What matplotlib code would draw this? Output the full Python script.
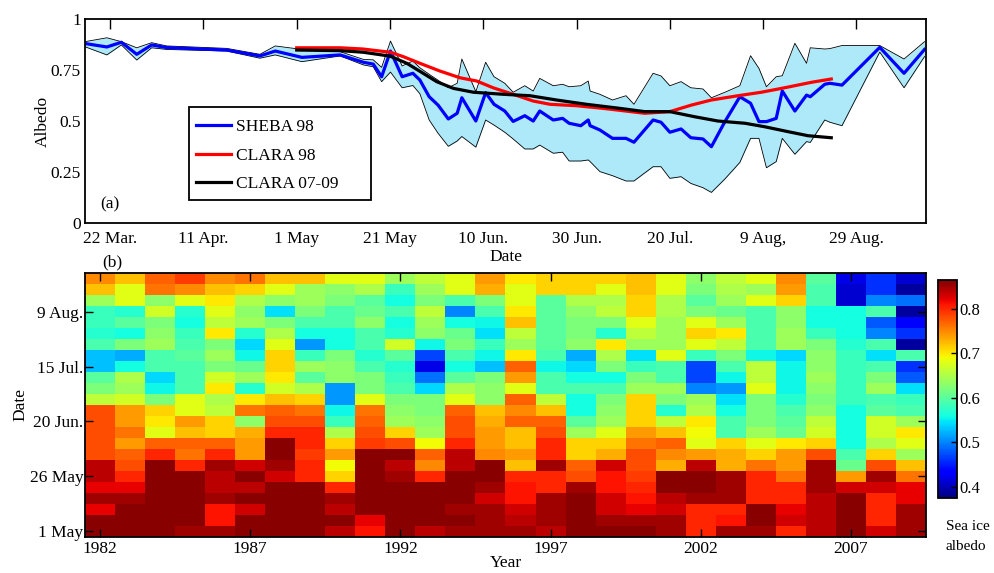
import matplotlib
matplotlib.use("Agg")
import matplotlib.pyplot as plt
from matplotlib.patches import Rectangle
import numpy as np

plt.rcParams['font.family'] = ['Liberation Serif', 'DejaVu Serif']
plt.rcParams['font.size'] = 12.5

# ---------------- (a) SHEBA 1998 albedo and CLARA seasonal curves ----------------
# day of year (1998)
sheba_doy = [75.6, 80.3, 83.4, 86.7, 89.9, 93.1, 106.0, 113.1, 116.4, 122.1,
             130.3, 135.3, 137.4, 139.2, 141.1, 143.6, 145.9, 147.4, 149.4, 151.3,
             153.5, 155.4, 156.4, 159.4, 161.5, 163.3, 165.6, 167.4, 169.9, 171.7,
             173.1, 176.0, 178.0, 179.4, 181.9, 183.5, 183.9, 186.0, 188.7, 191.6,
             193.3, 197.4, 199.1, 201.0, 203.4, 205.5, 208.1, 209.9, 212.8, 216.0,
             218.3, 220.1, 221.7, 223.8, 225.1, 227.8, 230.3, 231.1, 234.2, 235.3,
             237.9, 246.0, 251.2, 255.6]
sheba_mean = [0.880, 0.863, 0.886, 0.827, 0.873, 0.860, 0.848, 0.819, 0.843, 0.812,
              0.824, 0.788, 0.779, 0.717, 0.843, 0.717, 0.734, 0.701, 0.619, 0.578,
              0.510, 0.538, 0.614, 0.500, 0.639, 0.582, 0.549, 0.498, 0.526, 0.500,
              0.549, 0.505, 0.513, 0.489, 0.477, 0.505, 0.477, 0.456, 0.415, 0.415,
              0.396, 0.505, 0.494, 0.445, 0.461, 0.418, 0.412, 0.374, 0.497, 0.619,
              0.587, 0.497, 0.497, 0.513, 0.647, 0.549, 0.627, 0.619, 0.680, 0.685,
              0.676, 0.861, 0.734, 0.851]
sheba_upper = [0.889, 0.908, 0.889, 0.859, 0.884, 0.868, 0.856, 0.827, 0.868, 0.851,
               0.840, 0.802, 0.800, 0.763, 0.892, 0.770, 0.794, 0.761, 0.729, 0.700,
               0.663, 0.685, 0.804, 0.644, 0.788, 0.717, 0.685, 0.641, 0.673, 0.647,
               0.709, 0.673, 0.680, 0.668, 0.673, 0.696, 0.647, 0.631, 0.603, 0.624,
               0.582, 0.734, 0.721, 0.673, 0.693, 0.663, 0.657, 0.614, 0.641, 0.673,
               0.820, 0.758, 0.668, 0.717, 0.722, 0.881, 0.783, 0.859, 0.853, 0.855,
               0.870, 0.870, 0.804, 0.889]
sheba_lower = [0.864, 0.824, 0.873, 0.799, 0.859, 0.851, 0.843, 0.808, 0.824, 0.791,
               0.819, 0.775, 0.766, 0.693, 0.740, 0.663, 0.674, 0.634, 0.505, 0.440,
               0.376, 0.402, 0.424, 0.372, 0.505, 0.480, 0.445, 0.412, 0.363, 0.363,
               0.382, 0.342, 0.347, 0.304, 0.304, 0.309, 0.301, 0.252, 0.232, 0.206,
               0.206, 0.276, 0.276, 0.219, 0.227, 0.194, 0.173, 0.150, 0.216, 0.297,
               0.415, 0.415, 0.271, 0.301, 0.415, 0.337, 0.399, 0.395, 0.505, 0.494,
               0.477, 0.838, 0.663, 0.816]

clara98_doy = [121.0, 130.3, 135.2, 141.1, 143.8, 147.4, 151.7, 156.0, 159.6, 163.1,
               167.4, 171.7, 175.3, 181.0, 186.7, 195.6, 201.0, 205.6, 209.9, 215.6,
               220.6, 225.6, 231.4, 235.6]
clara98 = [0.859, 0.859, 0.853, 0.837, 0.816, 0.783, 0.745, 0.712, 0.696, 0.663,
           0.631, 0.598, 0.582, 0.575, 0.562, 0.538, 0.546, 0.578, 0.603, 0.624,
           0.641, 0.663, 0.690, 0.706]

clara0709_doy = [121.0, 130.3, 135.3, 141.0, 144.6, 148.1, 151.0, 154.6, 158.9, 165.3,
                 171.0, 176.7, 183.1, 190.3, 195.6, 201.0, 206.3, 211.3, 217.1, 221.3,
                 226.3, 230.6, 235.6]
clara0709 = [0.848, 0.845, 0.837, 0.818, 0.783, 0.734, 0.693, 0.660, 0.641, 0.631,
             0.624, 0.603, 0.582, 0.562, 0.546, 0.546, 0.521, 0.500, 0.489, 0.472,
             0.448, 0.428, 0.418]

date_tick_doy = [81, 101, 121, 141, 161, 181, 201, 221, 241]
date_tick_labels = ['22 Mar.', '11 Apr.', '1 May', '21 May', '10 Jun.',
                    '30 Jun.', '20 Jul.', '9 Aug,', '29 Aug.']

# ---------------- (b) pentad sea ice albedo 1982-2009 ----------------
years = list(range(1982, 2010))
pentad_ticks = [0, 5, 10, 15, 20]
pentad_labels = ['1 May', '26 May', '20 Jun.', '15 Jul.', '9 Aug.']

# one row per pentad, starting 1 May; one column per year 1982..2009
albedo_grid = [
    [.86, .86, .86, .85, .85, .86, .86, .86, .84, .81, .86, .84, .85, .85, .85, .84, .86, .86, .86, .85, .80, .85, .85, .80, .84, .86, .83, .85],
    [.86, .86, .86, .86, .81, .86, .86, .86, .86, .82, .86, .86, .86, .85, .84, .85, .86, .85, .85, .85, .80, .81, .86, .83, .84, .86, .80, .85],
    [.82, .86, .86, .86, .81, .83, .86, .86, .84, .86, .86, .86, .85, .85, .83, .85, .86, .83, .82, .83, .80, .80, .86, .82, .84, .86, .80, .85],
    [.85, .85, .86, .86, .85, .86, .86, .86, .85, .86, .86, .86, .86, .83, .81, .85, .86, .83, .81, .84, .85, .85, .80, .80, .84, .86, .80, .82],
    [.82, .82, .86, .86, .84, .84, .86, .86, .80, .86, .86, .86, .86, .85, .81, .80, .85, .81, .80, .86, .86, .85, .80, .80, .85, .83, .83, .82],
    [.84, .80, .86, .86, .84, .86, .83, .80, .71, .86, .85, .80, .86, .86, .80, .80, .78, .81, .79, .86, .86, .85, .80, .76, .85, .74, .85, .76],
    [.84, .78, .86, .80, .85, .83, .85, .80, .69, .86, .84, .75, .84, .86, .72, .85, .77, .83, .78, .73, .84, .73, .76, .74, .85, .61, .78, .72],
    [.78, .77, .80, .76, .80, .74, .86, .79, .74, .86, .86, .77, .84, .75, .74, .80, .71, .73, .78, .75, .74, .73, .71, .74, .78, .59, .71, .64],
    [.78, .74, .77, .77, .77, .74, .86, .80, .71, .79, .78, .69, .80, .74, .72, .80, .71, .71, .76, .77, .68, .71, .68, .70, .71, .56, .65, .68],
    [.78, .76, .68, .72, .71, .73, .80, .80, .65, .78, .71, .64, .78, .74, .72, .78, .64, .68, .74, .72, .69, .59, .64, .61, .67, .56, .67, .70],
    [.78, .74, .70, .74, .71, .63, .78, .78, .58, .77, .64, .63, .78, .73, .77, .77, .60, .64, .71, .66, .70, .59, .62, .60, .66, .56, .67, .64],
    [.78, .74, .71, .68, .66, .76, .77, .76, .555, .76, .63, .62, .77, .72, .75, .72, .56, .63, .71, .57, .65, .56, .62, .59, .63, .56, .60, .59],
    [.66, .67, .62, .68, .65, .70, .72, .71, .51, .68, .62, .62, .68, .63, .77, .66, .56, .62, .71, .62, .64, .545, .62, .57, .62, .58, .59, .58],
    [.62, .64, .555, .59, .70, .57, .67, .65, .51, .62, .59, .54, .65, .63, .68, .59, .59, .59, .64, .64, .50, .51, .68, .555, .63, .58, .64, .545],
    [.60, .65, .54, .59, .67, .64, .70, .60, .63, .62, .58, .49, .60, .62, .74, .59, .56, .56, .62, .59, .47, .555, .66, .555, .64, .58, .62, .48],
    [.53, .56, .59, .59, .62, .61, .71, .64, .63, .59, .57, .42, .56, .53, .77, .555, .54, .62, .58, .59, .47, .59, .66, .555, .63, .58, .59, .46],
    [.53, .52, .59, .60, .64, .555, .71, .58, .62, .57, .60, .47, .59, .555, .70, .59, .52, .65, .545, .68, .58, .62, .555, .54, .63, .58, .545, .59],
    [.59, .62, .64, .59, .62, .54, .68, .51, .56, .59, .67, .555, .62, .58, .64, .60, .63, .70, .64, .64, .68, .66, .59, .64, .62, .57, .59, .39],
    [.57, .56, .63, .58, .70, .57, .65, .56, .56, .59, .57, .63, .61, .545, .66, .60, .62, .57, .66, .64, .71, .70, .59, .64, .58, .56, .50, .46],
    [.58, .60, .62, .56, .66, .64, .62, .59, .59, .63, .56, .64, .56, .555, .72, .60, .62, .62, .68, .64, .68, .64, .59, .63, .56, .56, .48, .43],
    [.58, .57, .67, .57, .68, .63, .545, .62, .59, .61, .59, .66, .50, .59, .70, .60, .63, .66, .71, .65, .62, .61, .59, .63, .56, .56, .59, .39],
    [.64, .68, .63, .68, .70, .65, .63, .64, .62, .60, .56, .62, .59, .62, .68, .60, .65, .65, .71, .65, .60, .64, .68, .71, .59, .41, .50, .49],
    [.72, .68, .76, .75, .72, .71, .68, .64, .63, .65, .58, .64, .68, .73, .68, .71, .71, .68, .72, .68, .62, .65, .64, .74, .59, .41, .46, .39],
    [.75, .72, .77, .79, .75, .76, .72, .72, .68, .68, .64, .66, .68, .74, .70, .71, .71, .71, .72, .68, .63, .66, .68, .75, .60, .42, .46, .41],
]

year_ticks = [1982, 1987, 1992, 1997, 2002, 2007]
cbar_ticks = [0.4, 0.5, 0.6, 0.7, 0.8]

fig = plt.figure(figsize=(9.95, 5.73), dpi=100)

# ---- panel (a) ----
ax1 = fig.add_axes([0.0854, 0.6108, 0.8452, 0.356])
ax1.fill_between(sheba_doy, sheba_lower, sheba_upper, color='#aee9fa', lw=0)
ax1.plot(sheba_doy, sheba_upper, color='black', lw=0.6)
ax1.plot(sheba_doy, sheba_lower, color='black', lw=0.6)
ax1.plot(sheba_doy, sheba_mean, color='#0000ff', lw=2.3, label='SHEBA 98')
ax1.plot(clara98_doy, clara98, color='#ff0000', lw=2.3, label='CLARA 98')
ax1.plot(clara0709_doy, clara0709, color='black', lw=2.3, label='CLARA 07-09')
ax1.set_xlim(75.6, 255.9)
ax1.set_ylim(0, 1)
ax1.set_xticks(date_tick_doy)
ax1.set_xticklabels(date_tick_labels)
ax1.set_yticks([0, 0.25, 0.5, 0.75, 1])
ax1.set_yticklabels(['0', '0.25', '0.5', '0.75', '1'])
ax1.tick_params(axis='x', direction='in', top=True, bottom=False, length=7,
                width=1.0, pad=6)
ax1.tick_params(axis='y', length=0, pad=3)
for s in ax1.spines.values():
    s.set_linewidth(1.3)
ax1.set_xlabel('Date', labelpad=1)
ax1.set_ylabel('Albedo', labelpad=0)
ax1.text(0.018, 0.093, '(a)', transform=ax1.transAxes, ha='left', va='center')

# legend box drawn as its own rectangle, entries placed inside it
ax1.add_patch(Rectangle((0.1237, 0.1127), 0.2160, 0.4573, transform=ax1.transAxes,
                        facecolor='white', edgecolor='black', lw=1.3, zorder=5))
leg = ax1.legend(loc='upper left', bbox_to_anchor=(0.1320, 0.51),
                 borderaxespad=0, borderpad=0, handlelength=2.0,
                 handletextpad=0.3, labelspacing=0.71, frameon=False,
                 fontsize=12.5)
leg.set_zorder(6)

# ---- panel (b) ----
ax2 = fig.add_axes([0.0854, 0.0634, 0.8452, 0.4597])
grid = np.array(albedo_grid)
im = ax2.imshow(grid, origin='lower', aspect='auto', cmap='jet',
                vmin=0.375, vmax=0.865, interpolation='nearest',
                extent=(years[0] - 0.5, years[-1] + 0.5, -0.5, len(albedo_grid) - 0.5))
ax2.set_xticks(year_ticks)
ax2.set_yticks(pentad_ticks)
ax2.set_yticklabels(pentad_labels)
ax2.tick_params(axis='both', direction='in', top=True, right=True, length=6,
                width=1.0)
ax2.tick_params(axis='x', pad=3)
ax2.tick_params(axis='y', pad=1)
for s in ax2.spines.values():
    s.set_linewidth(1.3)
ax2.set_xlabel('Year', labelpad=-1)
ax2.set_ylabel('Date', labelpad=1)
fig.text(102 / 995, 1 - 262 / 573, '(b)', ha='left', va='center')

cax = fig.add_axes([0.9427, 0.1309, 0.0191, 0.381])
cb = fig.colorbar(im, cax=cax)
cb.set_ticks(cbar_ticks)
cb.set_ticklabels(['0.4', '0.5', '0.6', '0.7', '0.8'])
cax.tick_params(direction='in', length=4, width=1.0, pad=2, labelsize=12)
cb.outline.set_linewidth(1.3)
fig.text(946 / 995, 1 - 527 / 573, 'Sea ice', ha='left', va='center', fontsize=11)
fig.text(946 / 995, 1 - 547 / 573, 'albedo', ha='left', va='center', fontsize=11)

fig.savefig('out.png', dpi=100)
